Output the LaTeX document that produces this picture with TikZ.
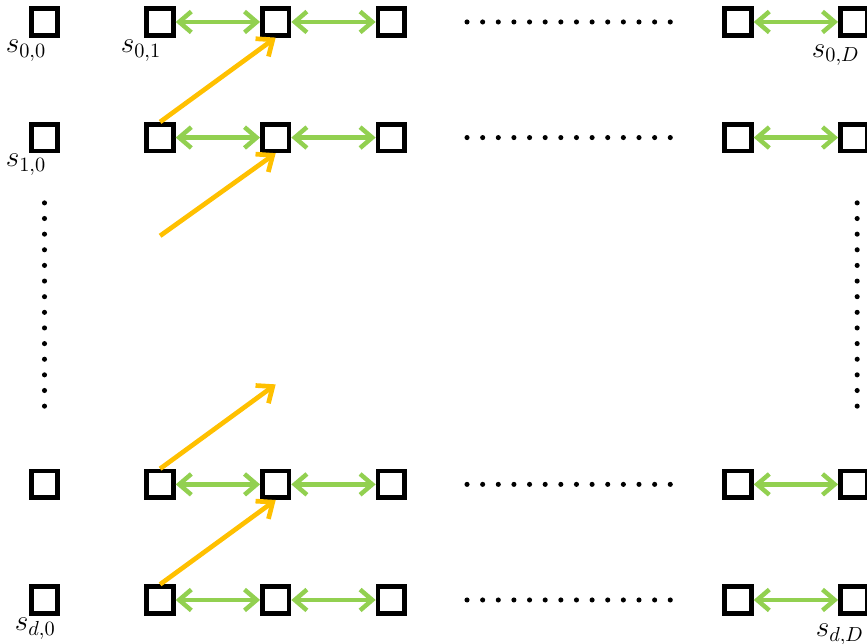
\documentclass[tikz,border=0pt]{standalone}
\usepackage{amsmath}
\usepackage{tikz}
\usepackage{xcolor}
\usetikzlibrary{arrows.meta, positioning}
\definecolor{linkgreen}{RGB}{146,208,80}
\definecolor{jumporange}{RGB}{255,192,0}

\begin{document}
\begin{tikzpicture}[
  state/.style={draw, line width=2.3pt, minimum size=0.46cm, inner sep=0pt},
  link/.style={{Straight Barb[length=2.1mm,width=3.6mm]}-{Straight Barb[length=2.1mm,width=3.6mm]}, linkgreen, line width=2.2pt},
  jump/.style={-{Straight Barb[length=2.3mm,width=3.8mm]}, jumporange, line width=2.3pt},
  dotrow/.style={line width=2.5pt, line cap=round, dash pattern=on 0pt off 0.2705cm},
  lbl/.style={font=\Large, inner sep=0pt}
]
\useasboundingbox (-0.77,0.38) rectangle (14.23,-10.76);

% Row 0
\node[state] (s00) at (0,0) {};
\node[state] (s01) at (2,0) {};
\node[state] (s02) at (4,0) {};
\node[state] (s03) at (6,0) {};
\node[state] (s0q) at (12,0) {};
\node[state] (s0D) at (14,0) {};

% Row 1
\node[state] (s10) at (0,-2) {};
\node[state] (s11) at (2,-2) {};
\node[state] (s12) at (4,-2) {};
\node[state] (s13) at (6,-2) {};
\node[state] (s1q) at (12,-2) {};
\node[state] (s1D) at (14,-2) {};

% Row d-1
\node[state] (sp0) at (0,-8) {};
\node[state] (sp1) at (2,-8) {};
\node[state] (sp2) at (4,-8) {};
\node[state] (sp3) at (6,-8) {};
\node[state] (spq) at (12,-8) {};
\node[state] (spD) at (14,-8) {};

% Row d
\node[state] (sd0) at (0,-10) {};
\node[state] (sd1) at (2,-10) {};
\node[state] (sd2) at (4,-10) {};
\node[state] (sd3) at (6,-10) {};
\node[state] (sdq) at (12,-10) {};
\node[state] (sdD) at (14,-10) {};

% Labels
\node[lbl] (l00) at (-0.32,-0.50) {$s_{0,0}$};
\node[lbl] (l01) at (1.67,-0.50) {$s_{0,1}$};
\node[lbl] (l0D) at (13.69,-0.57) {$s_{0,D}$};
\node[lbl] (l10) at (-0.32,-2.47) {$s_{1,0}$};
\node[lbl] (ld0) at (-0.16,-10.50) {$s_{d,0}$};
\node[lbl] (ldD) at (13.76,-10.60) {$s_{d,D}$};

% Green links along the rows
\draw[link] (s01) -- (s02);
\draw[link] (s02) -- (s03);
\draw[link] (s0q) -- (s0D);
\draw[link] (s11) -- (s12);
\draw[link] (s12) -- (s13);
\draw[link] (s1q) -- (s1D);
\draw[link] (sp1) -- (sp2);
\draw[link] (sp2) -- (sp3);
\draw[link] (spq) -- (spD);
\draw[link] (sd1) -- (sd2);
\draw[link] (sd2) -- (sd3);
\draw[link] (sdq) -- (sdD);

% Orange jumps between rows
\coordinate (c21) at (2,-3.70);
\coordinate (c32) at (4,-6.27);
\draw[jump] (s11.north) -- (s02.south);
\draw[jump] (c21) -- (s12.south);
\draw[jump] (sp1.north) -- (c32);
\draw[jump] (sd1.north) -- (sp2.south);

% Dots
\coordinate (h0a) at (7.31,0);
\coordinate (h0b) at (10.84,0);
\coordinate (h1a) at (7.31,-2);
\coordinate (h1b) at (10.84,-2);
\coordinate (hpa) at (7.31,-8);
\coordinate (hpb) at (10.84,-8);
\coordinate (hda) at (7.31,-10);
\coordinate (hdb) at (10.84,-10);
\coordinate (vla) at (0,-3.13);
\coordinate (vlb) at (0,-6.66);
\coordinate (vra) at (14.06,-3.13);
\coordinate (vrb) at (14.06,-6.66);
\draw[dotrow] (h0a) -- (h0b);
\draw[dotrow] (h1a) -- (h1b);
\draw[dotrow] (hpa) -- (hpb);
\draw[dotrow] (hda) -- (hdb);
\draw[dotrow] (vla) -- (vlb);
\draw[dotrow] (vra) -- (vrb);
\end{tikzpicture}
\end{document}
